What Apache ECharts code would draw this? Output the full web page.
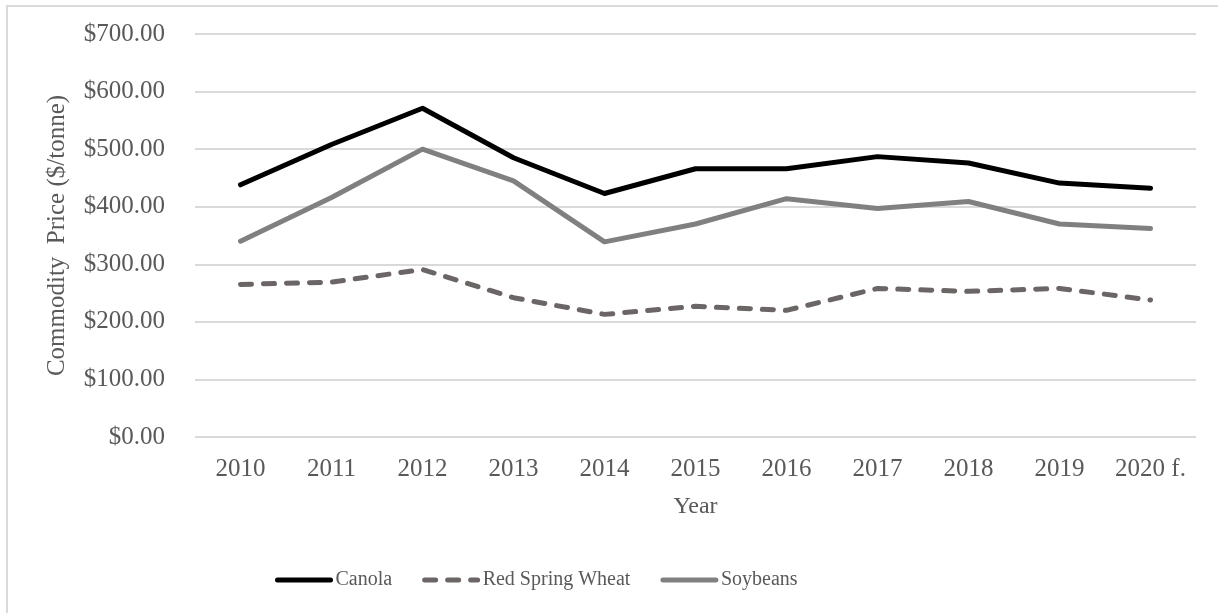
<!DOCTYPE html>
<html>
<head>
<meta charset="utf-8">
<script src="https://cdn.jsdelivr.net/npm/echarts@6/dist/echarts.min.js"></script>
<style>
  html, body { margin: 0; padding: 0; background: #ffffff; }
  #chart { width: 1218px; height: 613px; }
</style>
</head>
<body>
<div id="chart"></div>
<script>
// Commodity prices per tonne, 2010 to the 2020 forecast
const years = ['2010', '2011', '2012', '2013', '2014', '2015', '2016', '2017', '2018', '2019', '2020 f.'];
const canola = [438, 508, 571, 485, 423, 466, 466, 487, 476, 441, 432];
const redSpringWheat = [265, 269, 291, 242, 213, 227, 220, 258, 253, 258, 238];
const soybeans = [340, 416, 500, 445, 339, 370, 414, 397, 409, 370, 362];

const FONT = '"Liberation Serif", "Times New Roman", serif';
const TEXT = '#595959';
const GRID_LINE = '#d9d9d9';

const chart = echarts.init(document.getElementById('chart'), null, { renderer: 'canvas' });

chart.setOption({
  animation: false,
  backgroundColor: '#ffffff',
  graphic: [{
    type: 'rect',
    shape: { x: 7, y: 6, width: 1400, height: 800 },
    style: { fill: 'none', stroke: GRID_LINE, lineWidth: 2 },
    silent: true,
    z: -1
  }],
  grid: { left: 195, right: 22, top: 34, bottom: 176, containLabel: false },
  legend: {
    left: 270,
    top: 565,
    itemWidth: 53,
    itemHeight: 14,
    itemGap: 30,
    itemStyle: { opacity: 0 },
    lineStyle: { width: 5, cap: 'round' },
    textStyle: { fontFamily: FONT, fontSize: 20, color: TEXT },
    data: ['Canola', 'Red Spring Wheat', 'Soybeans']
  },
  xAxis: {
    type: 'category',
    data: years,
    boundaryGap: true,
    axisLine: { show: false },
    axisTick: { show: false },
    axisLabel: { fontFamily: FONT, fontSize: 25, color: TEXT, margin: 20, interval: 0 },
    name: 'Year',
    nameLocation: 'middle',
    nameGap: 58,
    nameTextStyle: { fontFamily: FONT, fontSize: 24, color: TEXT }
  },
  yAxis: {
    type: 'value',
    min: 0,
    max: 700,
    interval: 100,
    axisLine: { show: false },
    axisTick: { show: false },
    splitLine: { lineStyle: { color: GRID_LINE, width: 2 } },
    axisLabel: {
      fontFamily: FONT, fontSize: 25, color: TEXT, margin: 30,
      formatter: v => '$' + v.toFixed(2)
    },
    name: 'Commodity  Price ($/tonne)',
    nameLocation: 'middle',
    nameGap: 125,
    nameTextStyle: { fontFamily: FONT, fontSize: 25, color: TEXT }
  },
  series: [
    {
      name: 'Canola',
      type: 'line',
      data: canola,
      symbol: 'none',
      lineStyle: { color: '#000000', width: 5, cap: 'round', join: 'round' },
      itemStyle: { color: '#000000' },
      z: 4
    },
    {
      name: 'Red Spring Wheat',
      type: 'line',
      data: redSpringWheat,
      symbol: 'none',
      lineStyle: { color: '#6b6665', width: 5, type: [11, 12], cap: 'round', join: 'round' },
      itemStyle: { color: '#6b6665' },
      z: 2
    },
    {
      name: 'Soybeans',
      type: 'line',
      data: soybeans,
      symbol: 'none',
      lineStyle: { color: '#808080', width: 5, cap: 'round', join: 'round' },
      itemStyle: { color: '#808080' },
      z: 3
    }
  ]
});
</script>
</body>
</html>
